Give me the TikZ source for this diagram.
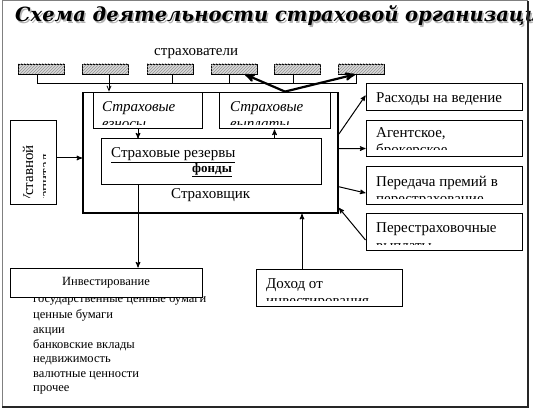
\documentclass[tikz,border=0pt]{standalone}
\usepackage{fontspec}
\setmainfont{Liberation Serif}
\newfontfamily\titlefont{DejaVu Serif}
\usepackage{tikz}
\usetikzlibrary{arrows,patterns}
\tikzstyle{box} = [draw,line width=1pt,inner sep=0,fill=white]
\tikzstyle{hatch} = [draw,line width=0.8pt,inner sep=0,minimum width=46,minimum height=10,fill=gray!30,postaction={pattern=north east lines,pattern color=gray!85}]
\tikzstyle{txt} = [inner sep=0,anchor=base west,font=\fontsize{15}{17}\selectfont]
\tikzstyle{small} = [inner sep=0,anchor=base west,font=\fontsize{12.5}{15}\selectfont]

\begin{document}
\begin{tikzpicture}[x=1pt,y=-1pt,post/.style={->,>=stealth',line width=1pt},bold/.style={->,>=stealth',line width=2.2pt}]
    \useasboundingbox (0,0) rectangle (533,409);

    \node[anchor=base west,inner sep=0,text=gray!60,font=\titlefont\bfseries\itshape\fontsize{19.5}{22}\selectfont] (shadow) at (16.5,23.5) {Схема деятельности страховой организации};
    \node[anchor=base west,inner sep=0,font=\titlefont\bfseries\itshape\fontsize{19.5}{22}\selectfont] (title) at (15,22) {Схема деятельности страховой организации};

    \node[txt] (clients) at (154,56) {страхователи};

    \node[hatch] (h1) at (41.5,69) {};
    \node[hatch] (h2) at (105.5,69) {};
    \node[hatch] (h3) at (170,69) {};
    \node[hatch] (h4) at (234,69) {};
    \node[hatch] (h5) at (297.5,69) {};
    \node[hatch] (h6) at (361,69) {};

    \draw[line width=0.8pt] ([xshift=-4.5]h1.south) -- ++(0,9) -| ([xshift=-5]h6.south);
    \draw[line width=0.8pt] ([xshift=2]h3.south) -- ++(0,9);
    \draw[line width=0.8pt] ([xshift=-5]h4.south) -- ++(0,9);
    \draw[line width=0.8pt] ([xshift=-4.5]h5.south) -- ++(0,9);

    % insurer and its parts
    \node[box,line width=1.8pt,minimum width=255,minimum height=120.5] (insurer) at (210.5,152.75) {};
    \node[box,minimum width=109,minimum height=36.5] (prem) at (147.5,110.75) {};
    \node[box,minimum width=111,minimum height=36.5] (payout) at (274.5,110.75) {};
    \node[box,minimum width=220,minimum height=46] (reserves) at (211,162) {};
    \node[txt] (resT) at (111,158) {\underline{Страховые резервы}};
    \node[txt,font=\bfseries\fontsize{13}{15}\selectfont] (fundT) at (192,172) {\underline{фонды}};
    \node[txt] (insurerT) at (171,199) {Страховщик};

    \begin{scope}
    \clip (94,94) rectangle (201,124.5);
    \node[txt,font=\itshape\fontsize{15}{17}\selectfont] (premT1) at (102,112) {Страховые};
    \node[txt,font=\itshape\fontsize{15}{17}\selectfont] (premT2) at (102,129) {взносы};
    \end{scope}
    \begin{scope}
    \clip (220,94) rectangle (329,124.5);
    \node[txt,font=\itshape\fontsize{15}{17}\selectfont] (payT1) at (230,112) {Страховые};
    \node[txt,font=\itshape\fontsize{15}{17}\selectfont] (payT2) at (230,129) {выплаты};
    \end{scope}

    % capital
    \node[box,minimum width=46,minimum height=83] (capital) at (33,162.5) {};
    \begin{scope}
    \clip (12,123) rectangle (45.5,197);
    \node[txt,rotate=90] (capT1) at (33,205) {Уставной};
    \node[txt,rotate=90] (capT2) at (50,205) {капитал};
    \end{scope}

    % outgoing
    \node[box,minimum width=156,minimum height=27] (expenses) at (444,97.5) {};
    \node[box,minimum width=156,minimum height=36] (agency) at (444,139) {};
    \node[box,minimum width=156,minimum height=37] (reinsP) at (444,185.5) {};
    \node[box,minimum width=156,minimum height=37] (reinsD) at (444,231.5) {};
    \begin{scope}
    \clip (368,86) rectangle (520,109);
    \node[txt] (expT1) at (376,102.3) {Расходы на ведение};
    \node[txt] (expT2) at (376,119.3) {дела};
    \end{scope}
    \begin{scope}
    \clip (368,123) rectangle (520,149.5);
    \node[txt] (agT1) at (376,138) {Агентское,};
    \node[txt] (agT2) at (376,155) {брокерское};
    \end{scope}
    \begin{scope}
    \clip (368,169) rectangle (520,198);
    \node[txt] (rpT1) at (376,186.7) {Передача премий в};
    \node[txt] (rpT2) at (376,203.7) {перестрахование};
    \end{scope}
    \begin{scope}
    \clip (368,215) rectangle (520,244.5);
    \node[txt] (rdT1) at (376,233) {Перестраховочные};
    \node[txt] (rdT2) at (376,250) {выплаты};
    \end{scope}

    % investment
    \node[small] (inv1) at (33,302) {государственные ценные бумаги};
    \node[small] (inv2) at (33,318) {ценные бумаги};
    \node[small] (inv3) at (33,333) {акции};
    \node[small] (inv4) at (33,348) {банковские вклады};
    \node[small] (inv5) at (33,362) {недвижимость};
    \node[small] (inv6) at (33,377) {валютные ценности};
    \node[small] (inv7) at (33,391) {прочее};
    \node[box,font=\fontsize{12.5}{15}\selectfont,minimum width=192,minimum height=29] (invest) at (106,282.5) {Инвестирование};

    \node[box,minimum width=146,minimum height=37] (income) at (329,287.5) {};
    \begin{scope}
    \clip (258,271) rectangle (400,300.5);
    \node[txt] (incT1) at (266,288) {Доход от};
    \node[txt] (incT2) at (266,305) {инвестирования};
    \end{scope}

    % arrows
    \draw[->,>=angle 45,line width=0.8pt] ([xshift=3.5]h2.south) -- ([xshift=-101.5]insurer.north);
    \draw[bold] ([xshift=74.5]insurer.north) -- ([xshift=11]h4.south);
    \draw[bold] ([xshift=74.5]insurer.north) -- ([xshift=-6]h6.south);

    \draw[post] ([xshift=-9.5]prem.south) -- ([xshift=-9.5]prem.south |- reserves.north);
    \draw[post] (payout.south |- reserves.north) -- (payout.south);
    \draw[post] ([xshift=-73]reserves.south) -- ([xshift=-73]reserves.south |- invest.north);
    \draw[post] ([xshift=-27]income.north) -- ([xshift=-27]income.north |- insurer.south);
    \draw[post] ([yshift=4.5]capital.east) -- ([yshift=4.5]capital.east -| insurer.west);

    \draw[post] ([yshift=18.75]insurer.east) -- ([yshift=2]expenses.west);
    \draw[post] ([yshift=4]insurer.east) -- ([yshift=-9.5]agency.west);
    \draw[post] ([yshift=-34]insurer.east) -- ([yshift=-7.5]reinsP.west);
    \draw[post] ([yshift=-8.5]reinsD.west) -- ([yshift=6]insurer.south east);

    % frame
    \draw[gray,line width=1pt] (2,407) -- (2,1) -- (528,1);
    \draw[black!85,line width=1.5pt] (2,407) -- (528,407) -- (528,1);
\end{tikzpicture}
\end{document}
